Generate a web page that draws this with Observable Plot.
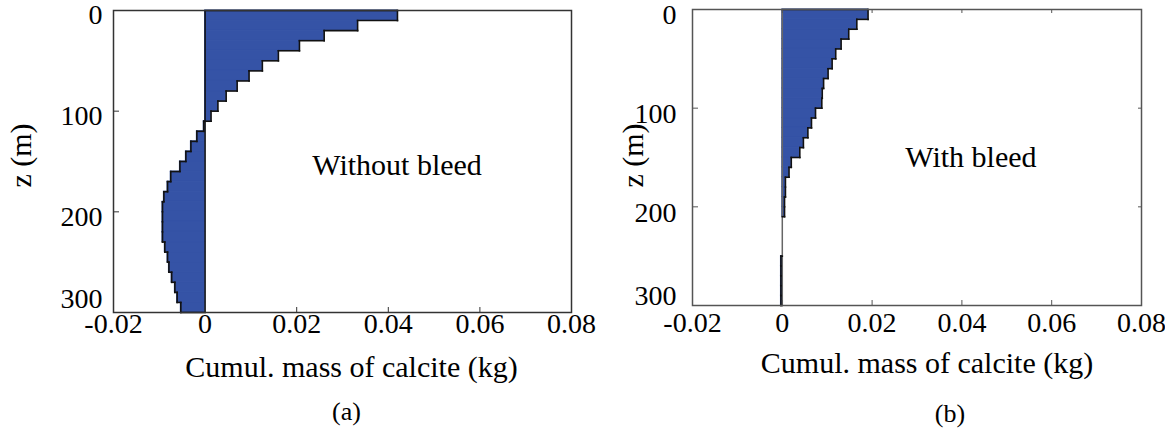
<!DOCTYPE html>
<html><head><meta charset="utf-8">
<script src="https://cdn.jsdelivr.net/npm/d3@7"></script>
<script src="https://cdn.jsdelivr.net/npm/@observablehq/plot@0.6"></script>
<style>
html,body{margin:0;padding:0;background:#fff;}
#wrap{position:relative;width:1165px;height:430px;overflow:hidden;font-family:"Liberation Serif","Times New Roman",serif;}
#wrap svg{position:absolute;top:0;font-family:"Liberation Serif","Times New Roman",serif;}
</style></head><body><div id="wrap"></div>
<script>
// ---- data ----
const depthTop = [0,10,20,30,40,50,60,70,80,90,100,110,120,130,140,150,160,170,180,190,200,210,220,230,240,250,260,270,280,290];
const layerThickness = 10;
const massWithoutBleed = [0.042,0.0333,0.026,0.0206,0.016,0.0125,0.0096,0.007,0.0046,0.0028,
  0.0013,-0.0003,-0.0018,-0.0031,-0.0042,-0.0055,-0.0075,-0.0082,-0.009,-0.0093,
  -0.0093,-0.0093,-0.0093,-0.0088,-0.0082,-0.0079,-0.0073,-0.0066,-0.0061,-0.0053];
const massWithBleed = [0.0191,0.0166,0.0148,0.0131,0.0119,0.0111,0.0102,0.0092,0.0089,0.0088,
  0.0074,0.0065,0.0057,0.0047,0.0039,0.002,0.0015,0.0007,0.0007,0.0005,
  0.0005,0,0,0,0,-0.0003,-0.0003,-0.0003,-0.0003,-0.0003];
const xTicks = [-0.02,0,0.02,0.04,0.06,0.08];
const yTicksMain = [0,100,200];
const yTicksLast = [300];
const panelNotes = ["Without bleed","With bleed"];
const notePos = [{x:0.0234, z:154},{x:0.0274, z:150}];
const captions = ["(a)","(b)"];
const xLabel = "Cumul. mass of calcite (kg)";
const yLabel = "z (m)";

const FILL = "#3553a6";
const FONT = '"Liberation Serif", "Times New Roman", serif';

function panel(values, idx, cfg) {
  const layers = depthTop.map((z,i)=>({z0:z, z1:z+layerThickness, v:values[i]}));
  const verticals = layers.filter(d=>d.v!==0);
  const steps = [];
  for (let i=0;i<=layers.length;i++){
    const a = i===0 ? 0 : layers[i-1].v;
    const b = i===layers.length ? 0 : layers[i].v;
    const z = i===layers.length ? layers[i-1].z1 : layers[i].z0;
    if (a!==b) steps.push({z, a, b});
  }
  const marks = [
    Plot.rect(layers, {x1: 0, x2: "v", y1: "z0", y2: "z1", fill: FILL, stroke: FILL, strokeWidth: 1}),
    Plot.ruleX([0], {stroke: cfg.zeroColor, strokeWidth: 1.5}),
    Plot.link(verticals, {x1:"v", x2:"v", y1:"z0", y2:"z1", stroke:"#111", strokeWidth:1.6, strokeLinecap:"square"}),
    Plot.link(steps, {x1:"a", x2:"b", y1:"z", y2:"z", stroke:"#111", strokeWidth:1.6, strokeLinecap:"square"}),
    Plot.frame({stroke: cfg.frameColor, strokeWidth: 1.5}),
    // inward ticks
    Plot.axisX({ticks: xTicks, anchor:"bottom", tickSize:-5, tickFormat:()=>"", label:null, stroke: cfg.frameColor}),
    Plot.axisY({ticks: yTicksMain, anchor:"left", tickSize:-6, tickFormat:()=>"", label:null, stroke: cfg.frameColor}),
    // tick labels
    Plot.axisX({ticks: xTicks, anchor:"bottom", tickSize:0, tickPadding: cfg.xPad, tickFormat: d=>String(d), label:null, fontSize:28}),
    Plot.axisY({ticks: yTicksMain, anchor:"left", tickSize:0, tickPadding: cfg.yPad, tickFormat: d=>String(d), label:null, fontSize:28, dy: cfg.yDy}),
    Plot.axisY({ticks: yTicksLast, anchor:"left", tickSize:0, tickPadding: cfg.yPad, tickFormat: d=>String(d), label:null, fontSize:28, dy: cfg.yDyLast}),
    // annotation
    Plot.text([panelNotes[idx]], {x: notePos[idx].x, y: notePos[idx].z, text: d=>d, textAnchor:"start", fontSize:30, fill:"#000"}),
    // axis titles & caption
    Plot.text([xLabel], {frameAnchor:"bottom", textAnchor:"middle", lineAnchor:"middle", dx: cfg.xlDx, dy: cfg.xlDy, text: d=>d, fontSize:30}),
    Plot.text([yLabel], {frameAnchor:"left", textAnchor:"middle", lineAnchor:"middle", dx: cfg.ylDx, dy: cfg.ylDy, rotate:-90, text: d=>d, fontSize:30}),
    Plot.text([captions[idx]], {frameAnchor:"bottom", textAnchor:"middle", lineAnchor:"middle", dx: cfg.capDx, dy: cfg.capDy, text: d=>d, fontSize:26})
  ];
  if (cfg.mirror) {
    marks.push(Plot.axisY({ticks: yTicksMain, anchor:"right", tickSize:-4, tickFormat:()=>"", label:null, stroke: cfg.frameColor}));
    marks.push(Plot.axisX({ticks: xTicks, anchor:"top", tickSize:-3, tickFormat:()=>"", label:null, stroke: cfg.frameColor}));
  }
  const svg = Plot.plot({
    width: cfg.width, height: 430,
    marginLeft: cfg.ml, marginRight: cfg.mr, marginTop: cfg.mt, marginBottom: cfg.mb,
    x: {domain: [-0.02, 0.08], label: null},
    y: {domain: [0, 300], reverse: true, label: null},
    style: {fontFamily: FONT, color: "#000", background: "transparent", overflow: "visible"},
    marks
  });
  svg.style.left = cfg.left + "px";
  return svg;
}

const wrap = document.getElementById("wrap");
wrap.appendChild(panel(massWithoutBleed, 0, {
  left: 0, width: 582, ml: 113, mr: 11, mt: 10, mb: 118,
  zeroColor: "#111", frameColor: "#333",
  xPad: 1, yPad: 11, yDy: 5, yDyLast: -13,
  xlDx: 9, xlDy: 55, ylDx: -92, ylDy: -6, capDx: 4, capDy: 99, mirror: false
}));
wrap.appendChild(panel(massWithBleed, 1, {
  left: 582, width: 583, ml: 110, mr: 24, mt: 9, mb: 125,
  zeroColor: "#666", frameColor: "#555",
  xPad: 7, yPad: 16, yDy: 6, yDyLast: -9,
  xlDx: 10, xlDy: 58, ylDx: -59, ylDy: -2, capDx: 33, capDy: 108, mirror: true
}));
</script></body></html>
